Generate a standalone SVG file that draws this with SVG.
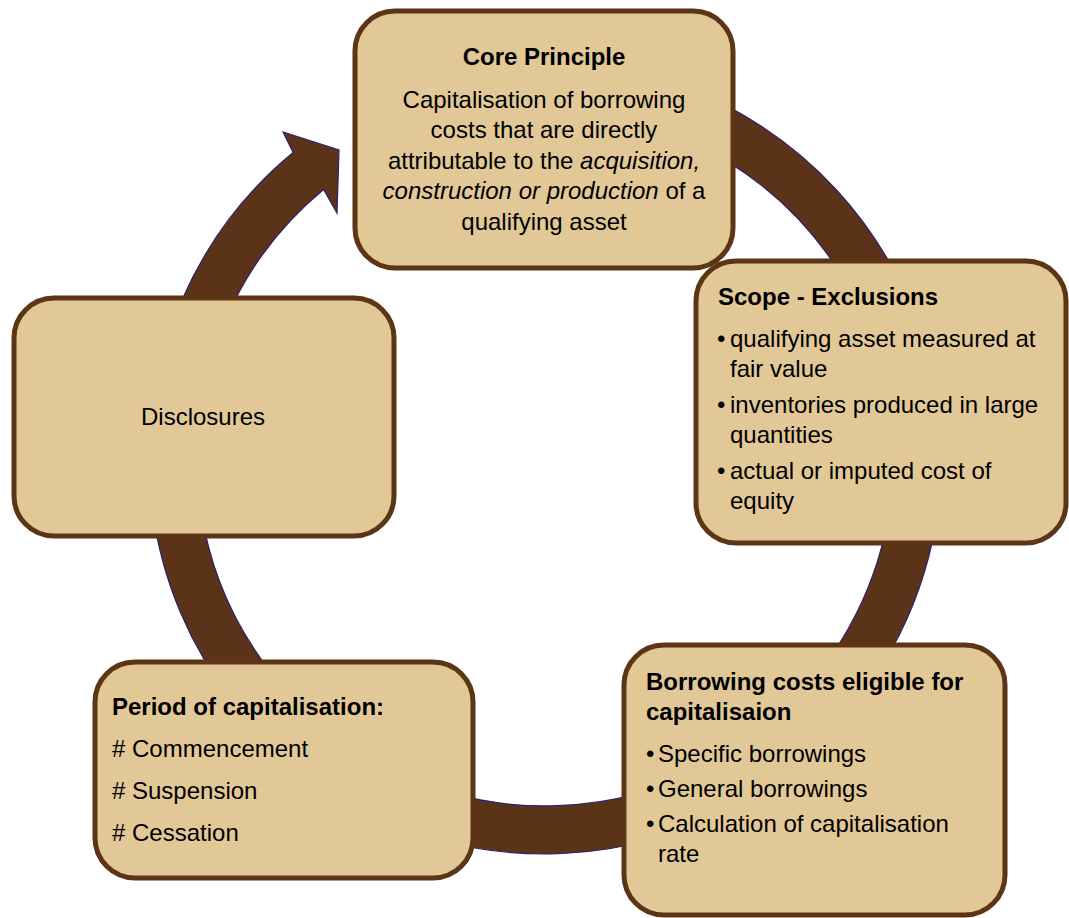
<svg xmlns="http://www.w3.org/2000/svg" width="1069" height="918" viewBox="0 0 1069 918">
<style>
.box{fill:#E2C897;stroke:#5C3516;stroke-width:5}
.t{font-family:"Liberation Sans",Arial,sans-serif;font-size:24px;fill:#000}
.b{font-weight:bold}
.c{text-anchor:middle}
.ring{fill:#5A3318;stroke:#2E1F6E;stroke-width:1.2;stroke-linejoin:miter}
</style>
<rect width="1069" height="918" fill="#fff"/>
<g id="connectors">
<path class="ring" d="M371.4,102.1 A396,396 0 1 1 293.1,152.5 L283,132 L339,150 L337,213 L323.6,189.5 A348,348 0 1 0 392.4,145.2 Z"/>
</g>
<g id="core">
<rect class="box" x="355" y="11" width="378" height="257" rx="40"/>
<text class="t b c" x="544" y="65">Core Principle</text>
<text class="t c" x="544" y="108">Capitalisation of borrowing</text>
<text class="t c" x="544" y="138">costs that are directly</text>
<text class="t c" x="544" y="169">attributable to the <tspan font-style="italic">acquisition,</tspan></text>
<text class="t c" x="544" y="199"><tspan font-style="italic">construction or production</tspan> of a</text>
<text class="t c" x="544" y="230">qualifying asset</text>
</g>
<g id="scope">
<rect class="box" x="696" y="261" width="370" height="282" rx="40"/>
<text class="t b" x="718" y="305">Scope - Exclusions</text>
<text class="t" x="717" y="347">•</text>
<text class="t" x="730" y="347">qualifying asset measured at</text>
<text class="t" x="730" y="377">fair value</text>
<text class="t" x="717" y="413">•</text>
<text class="t" x="730" y="413">inventories produced in large</text>
<text class="t" x="730" y="443">quantities</text>
<text class="t" x="717" y="479">•</text>
<text class="t" x="730" y="479">actual or imputed cost of</text>
<text class="t" x="730" y="509">equity</text>
</g>
<g id="borrowing">
<rect class="box" x="624" y="645" width="381" height="270" rx="40"/>
<text class="t b" x="646" y="690">Borrowing costs eligible for</text>
<text class="t b" x="646" y="720">capitalisaion</text>
<text class="t" x="646" y="762">•</text>
<text class="t" x="658" y="762">Specific borrowings</text>
<text class="t" x="646" y="797">•</text>
<text class="t" x="658" y="797">General borrowings</text>
<text class="t" x="646" y="832">•</text>
<text class="t" x="658" y="832">Calculation of capitalisation</text>
<text class="t" x="658" y="862">rate</text>
</g>
<g id="period">
<rect class="box" x="95" y="662" width="378" height="216" rx="40"/>
<text class="t b" x="112" y="715">Period of capitalisation:</text>
<text class="t" x="112" y="757"># Commencement</text>
<text class="t" x="112" y="799"># Suspension</text>
<text class="t" x="112" y="841"># Cessation</text>
</g>
<g id="disclosures">
<rect class="box" x="14" y="298" width="380" height="238" rx="40"/>
<text class="t c" x="203" y="425">Disclosures</text>
</g>
</svg>
